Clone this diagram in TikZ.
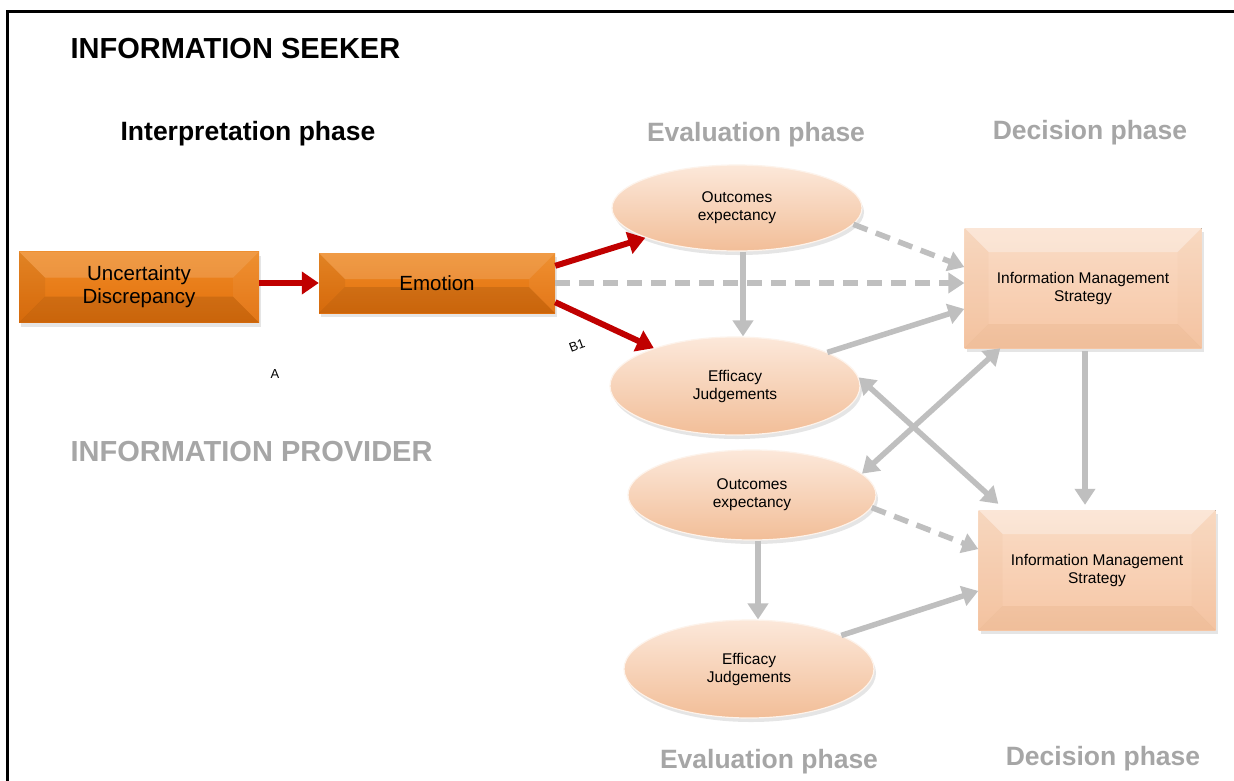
\documentclass[tikz,border=0pt]{standalone}
\usepackage{fontspec}
\setmainfont{Liberation Sans}
\usetikzlibrary{arrows.meta,shapes.geometric,calc,shadows}

\definecolor{orgtop}{HTML}{EE8A26}
\definecolor{orgbot}{HTML}{E2700C}
\definecolor{pchtop}{HTML}{FADCC6}
\definecolor{pchbot}{HTML}{F6C6A5}
\definecolor{ellA}{HTML}{FCE8DA}
\definecolor{ellB}{HTML}{F9D6BC}
\definecolor{ellC}{HTML}{F2BE98}
\definecolor{arrowred}{HTML}{C00000}
\definecolor{arrowgrey}{HTML}{BFBFBF}
\definecolor{phasegrey}{HTML}{A6A6A6}

\newcommand\fsTitle{\fontsize{29}{34}\selectfont\bfseries}
\newcommand\fsPhase{\fontsize{26.5}{31}\selectfont\bfseries}
\newcommand\fsBox{\fontsize{20.5}{23}\selectfont}
\newcommand\fsSmall{\fontsize{15.5}{18}\selectfont}
\newcommand\fsTag{\fontsize{13}{15}\selectfont}

% bevelled face: #1 inset, #2 face top, #3 face bottom,
% #4 top facet, #5 left facet, #6 right facet, #7 bottom facet
\newcommand\bevelfaces[7]{%
  \def\bb{path picture bounding box}%
  \fill[top color=#2,bottom color=#3] (\bb.south west) rectangle (\bb.north east);
  \fill[#4] (\bb.north west) -- (\bb.north east) -- ([shift={(-#1,-#1)}]\bb.north east) -- ([shift={(#1,-#1)}]\bb.north west) -- cycle;
  \fill[#5] (\bb.north west) -- ([shift={(#1,-#1)}]\bb.north west) -- ([shift={(#1,#1)}]\bb.south west) -- (\bb.south west) -- cycle;
  \fill[#6] (\bb.north east) -- ([shift={(-#1,-#1)}]\bb.north east) -- ([shift={(-#1,#1)}]\bb.south east) -- (\bb.south east) -- cycle;
  \fill[#7] (\bb.south west) -- (\bb.south east) -- ([shift={(-#1,#1)}]\bb.south east) -- ([shift={(#1,#1)}]\bb.south west) -- cycle;
}

\tikzset{
  softshadow/.style={drop shadow={opacity=.2, shadow xshift=2pt, shadow yshift=-4pt}},
  orangebox/.style={rectangle, inner sep=0pt, align=center, font=\fsBox, softshadow,
    path picture={\bevelfaces{26}{orgtop}{orgbot}{white,opacity=.15}{black,opacity=.05}{white,opacity=.05}{black,opacity=.1}}},
  peachbox/.style={rectangle, inner sep=0pt, align=center, font=\fsSmall, softshadow,
    minimum width=237pt, minimum height=120pt,
    path picture={\bevelfaces{24}{pchtop}{pchbot}{white,opacity=.3}{brown,opacity=.05}{brown,opacity=.03}{brown,opacity=.1}}},
  oval/.style={ellipse, inner sep=0pt, align=center, font=\fsSmall, softshadow,
    top color=ellA, middle color=ellB, bottom color=ellC, draw=white!70!ellB, line width=1.2pt},
  phase/.style={font=\fsPhase, text=phasegrey, anchor=base},
  redarrow/.style={draw=arrowred, line width=6pt, -{Triangle[length=17pt,width=22pt]}},
  greyarrow/.style={draw=arrowgrey, line width=5.5pt, -{Triangle[length=16pt,width=20pt]}},
  greydash/.style={greyarrow, dash pattern=on 15pt off 9pt},
  greyboth/.style={draw=arrowgrey, line width=5.5pt, {Triangle[length=16pt,width=20pt]}-{Triangle[length=16pt,width=20pt]}},
}

\begin{document}
\begin{tikzpicture}[x=1pt, y=1pt]
\useasboundingbox (0,0) rectangle (1234,-780);
\fill[white] (0,0) rectangle (1234,-780);

% outer frame
\draw[line width=3pt] (7,-800) -- (7,-11) -- (1250,-11);

% headings
\node[font=\fsTitle, anchor=west] (seeker) at (67,-49) {INFORMATION SEEKER};
\node[font=\fsTitle, text=phasegrey, anchor=west] (provider) at (67,-452) {INFORMATION PROVIDER};
\node[font=\fsPhase, anchor=base] (interp) at (248,-140) {Interpretation phase};
\node[phase] (evaltop) at (756,-141) {Evaluation phase};
\node[phase] (dectop) at (1090,-139) {Decision phase};
\node[phase] (evalbot) at (769,-768) {Evaluation phase};
\node[phase] (decbot) at (1103,-765) {Decision phase};

% interpretation phase boxes
\node[orangebox, minimum width=240pt, minimum height=71pt] (unc) at (139,-287) {Uncertainty\\Discrepancy};
\node[orangebox, minimum width=236pt, minimum height=60pt] (emo) at (437,-283) {Emotion};

% evaluation phase ovals
\node[oval, minimum width=250pt, minimum height=86pt] (oe1) at (737,-208) {Outcomes\\expectancy};
\node[oval, minimum width=250pt, minimum height=98pt] (ej1) at (735,-386) {Efficacy\\Judgements};
\node[oval, minimum width=248pt, minimum height=90pt] (oe2) at (752,-495) {Outcomes\\expectancy};
\node[oval, minimum width=250pt, minimum height=98pt] (ej2) at (749,-669) {Efficacy\\Judgements};

% decision phase boxes
\node[peachbox] (ims1) at (1083,-288) {Information Management\\Strategy};
\node[peachbox] (ims2) at (1097,-570) {Information Management\\Strategy};

% labels
\node[font=\fsTag] (labA) at (275,-374) {A};
\node[font=\fsTag, rotate=20, inner sep=1pt] (labB) at (577,-346) {B1};

% red connectors
\draw[redarrow] (unc.east |- emo.west) -- (emo.west);
\draw[redarrow] ($(emo.north east)+(0,-13)$) -- (oe1.198);
\draw[redarrow] ($(emo.south east)+(0,11)$) -- (ej1.155);

% grey connectors
\draw[greydash] (emo.east) -- (ims1.west |- emo.east);
\draw[greydash] (oe1.-8) -- (ims1.170);
\draw[greyarrow] ([xshift=6pt]oe1.south) -- ([xshift=6pt]oe1.south |- ej1.north);
\draw[greyarrow] (ej1.20) -- (ims1.190);
\draw[greyboth] (oe2.11) -- ([xshift=36pt]ims1.south west);
\draw[greyboth] (ej1.4) -- ([xshift=20pt,yshift=6pt]ims2.north west);
\draw[greyarrow] ([xshift=2pt,yshift=-3pt]ims1.south) -- ([xshift=2pt,yshift=5pt]ims1.south |- ims2.north);
\draw[greydash] (oe2.-6) -- (ims2.170);
\draw[greyarrow] ([xshift=6pt]oe2.south) -- ([xshift=6pt]oe2.south |- ej2.north);
\draw[greyarrow] (ej2.20) -- (ims2.190);
\end{tikzpicture}
\end{document}
